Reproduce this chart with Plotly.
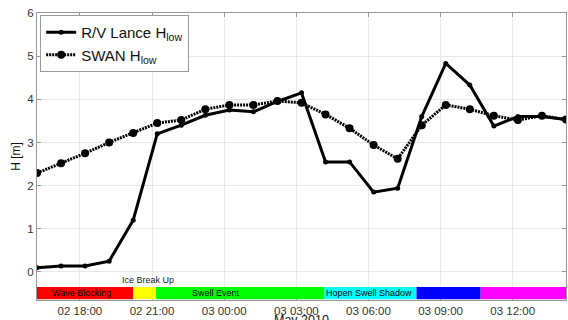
import plotly.graph_objects as go
import pandas as pd

# ---- data ----
start_time = "2010-05-02 16:13"
n_points = 23
times = pd.date_range(start_time, periods=n_points, freq="1h")

lance_hlow = [0.10, 0.14, 0.14, 0.25, 1.20, 3.20, 3.40, 3.63, 3.75, 3.71, 3.95, 4.15,
              2.55, 2.55, 1.85, 1.94, 3.60, 4.83, 4.33, 3.38, 3.60, 3.60, 3.53]
swan_hlow = [2.29, 2.52, 2.75, 3.00, 3.22, 3.45, 3.52, 3.77, 3.87, 3.87, 3.96, 3.92,
             3.65, 3.33, 2.94, 2.62, 3.40, 3.87, 3.77, 3.62, 3.52, 3.62, 3.53]

# event band segments (start, end, colour)
band_starts = ["2010-05-02 16:13", "2010-05-02 20:13", "2010-05-02 21:10",
               "2010-05-03 04:10", "2010-05-03 08:00", "2010-05-03 10:40"]
band_ends = ["2010-05-02 20:13", "2010-05-02 21:10", "2010-05-03 04:10",
             "2010-05-03 08:00", "2010-05-03 10:40", "2010-05-03 14:13"]
band_colors = ["#ff0000", "#ffff00", "#00ff00", "#00ffff", "#0000ff", "#ff00ff"]

# event labels
band_label_text = ["Wave Blocking", "Swell Event", "Hopen Swell Shadow"]
band_label_time = ["2010-05-02 18:05", "2010-05-02 23:40", "2010-05-03 04:10"]
band_label_anchor = ["center", "center", "left"]
ice_label_text = "Ice Break Up"
ice_label_time = "2010-05-02 20:50"

x_title = "May 2010"
y_ticks = [0, 1, 2, 3, 4, 5, 6]

# ---- figure ----
FONT = "Liberation Sans, Arial, sans-serif"
fig = go.Figure()

fig.add_trace(go.Scatter(
    x=times, y=lance_hlow, mode="lines+markers",
    name="R/V Lance H<sub>low</sub>",
    line=dict(color="black", width=3),
    marker=dict(color="black", size=5, symbol="circle"),
))
fig.add_trace(go.Scatter(
    x=times, y=swan_hlow, mode="lines+markers",
    name="SWAN H<sub>low</sub>",
    line=dict(color="black", width=3, dash="2px,1px"),
    marker=dict(color="black", size=8, symbol="circle"),
))

band_y0, band_y1 = -0.63, -0.35
for s, e, c in zip(band_starts, band_ends, band_colors):
    fig.add_shape(type="rect", xref="x", yref="y", x0=s, x1=e, y0=band_y0, y1=band_y1,
                  fillcolor=c, line=dict(width=0), layer="above")

band_mid = (band_y0 + band_y1) / 2
for txt, t, anc in zip(band_label_text, band_label_time, band_label_anchor):
    fig.add_annotation(x=t, y=band_mid, xref="x", yref="y", text=txt, showarrow=False,
                       xanchor=anc, yanchor="middle",
                       font=dict(family=FONT, size=9, color="black"))
fig.add_annotation(x=ice_label_time, y=-0.18, xref="x", yref="y", text=ice_label_text,
                   showarrow=False, xanchor="center", yanchor="middle",
                   font=dict(family=FONT, size=9, color="#222222"))
# x-axis title (sits partly below the page edge, as in the reference)
fig.add_annotation(x=0.5, y=-0.037, xref="paper", yref="paper", text=x_title,
                   showarrow=False, xanchor="center", yanchor="top",
                   font=dict(family=FONT, size=12.5, color="#111111"))

fig.update_layout(
    width=568, height=320,
    margin=dict(l=37, r=2, t=13, b=20),
    paper_bgcolor="white", plot_bgcolor="white",
    font=dict(family=FONT, color="#333333"),
    showlegend=True,
    legend=dict(x=0.006, y=0.993, xanchor="left", yanchor="top",
                bgcolor="white", bordercolor="#999999", borderwidth=1,
                font=dict(family=FONT, size=15, color="#111111"),
                tracegroupgap=0, itemwidth=30),
)
fig.update_xaxes(
    type="date", range=[times[0], times[-1]], automargin=False,
    tick0="2010-05-02 00:00", dtick=3 * 3600 * 1000, tickformat="%d %H:%M",
    showgrid=True, gridcolor="#e8e8e8", gridwidth=1,
    showline=True, linecolor="#999999", linewidth=1, mirror="ticks",
    ticks="inside", ticklen=4, tickcolor="#999999",
    tickfont=dict(family=FONT, size=11.5, color="#333333"),
    zeroline=False,
)
fig.update_yaxes(
    range=[-0.65, 6], tickvals=y_ticks, automargin=False,
    showgrid=True, gridcolor="#e8e8e8", gridwidth=1,
    showline=True, linecolor="#999999", linewidth=1, mirror="ticks",
    ticks="inside", ticklen=4, tickcolor="#999999",
    tickfont=dict(family=FONT, size=11.5, color="#333333"),
    title=dict(text="H [m]", standoff=4, font=dict(family=FONT, size=12, color="#111111")),
    zeroline=False,
)

fig.write_html("out.html", config={"displayModeBar": False},
               post_script="document.body.style.margin='0';")
